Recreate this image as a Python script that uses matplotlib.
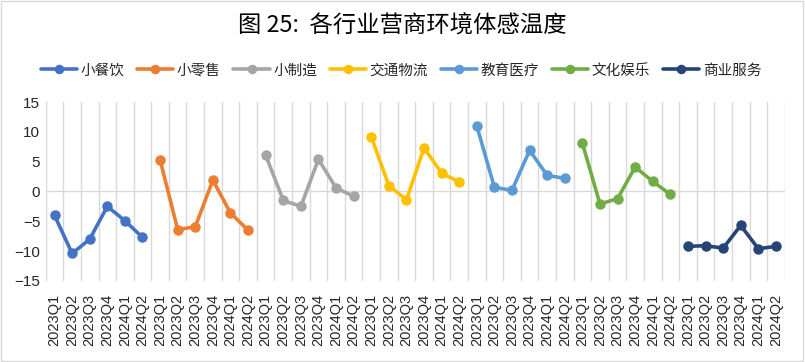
import matplotlib
matplotlib.use("Agg")
import matplotlib.pyplot as plt
import numpy as np
from matplotlib.patches import Rectangle

plt.rcParams['font.family'] = ['Noto Sans CJK SC', 'DejaVu Sans']

title = "图 25:  各行业营商环境体感温度"
quarters = ["2023Q1", "2023Q2", "2023Q3", "2023Q4", "2024Q1", "2024Q2"]
series_names = ["小餐饮", "小零售", "小制造", "交通物流", "教育医疗", "文化娱乐", "商业服务"]

s_canyin = [-4.0, -10.4, -8.0, -2.5, -4.9, -7.7]
s_lingshou = [5.3, -6.4, -5.9, 1.9, -3.6, -6.5]
s_zhizao = [6.1, -1.5, -2.5, 5.4, 0.6, -0.8]
s_jiaotong = [9.2, 1.0, -1.4, 7.3, 3.1, 1.6]
s_jiaoyu = [11.0, 0.7, 0.2, 6.9, 2.7, 2.2]
s_wenhua = [8.1, -2.1, -1.2, 4.1, 1.7, -0.5]
s_shangye = [-9.2, -9.1, -9.5, -5.7, -9.6, -9.2]

all_series = [s_canyin, s_lingshou, s_zhizao, s_jiaotong, s_jiaoyu, s_wenhua, s_shangye]
colors = ["#4472C4", "#ED7D31", "#A5A5A5", "#FFC000", "#5B9BD5", "#70AD47", "#264478"]

categories = quarters * len(series_names)

fig = plt.figure(figsize=(8.05, 3.62), dpi=100)
ax = fig.add_axes([0.0568, 0.224, 0.918, 0.494])

n = len(categories)
for i, (name, vals, c) in enumerate(zip(series_names, all_series, colors)):
    x = np.arange(len(quarters)) + i * len(quarters)
    ax.plot(x, vals, color=c, lw=2.6, marker='o', ms=6.5, label=name,
            solid_capstyle='round', solid_joinstyle='round')

ax.set_xlim(-0.5, n - 0.5)
ax.set_ylim(-15, 15)
ax.set_yticks([-15, -10, -5, 0, 5, 10, 15])
ax.set_xticks(np.arange(n))
ax.set_xticklabels(categories, rotation=90, family=['Liberation Sans', 'DejaVu Sans'],
                   fontsize=10.5, color='#262626')
for lab in ax.get_yticklabels():
    lab.set_family(['Liberation Sans', 'DejaVu Sans'])
ax.tick_params(axis='y', labelsize=11, length=0, pad=4, colors='#262626')
ax.tick_params(axis='x', length=0, pad=9)

# vertical gridlines at category boundaries
for b in np.arange(n + 1) - 0.5:
    ax.axvline(b, color='#D9D9D9', lw=1.0, zorder=0)
ax.axhline(0, color='#D9D9D9', lw=1.0, zorder=0)
for s in ax.spines.values():
    s.set_visible(False)

fig.text(0.5, 0.927, title, ha='center', va='center', fontsize=16.8, color='#000000')

leg = fig.legend(loc='center', bbox_to_anchor=(0.498, 0.805), ncol=7, frameon=False,
                 fontsize=10.5, handlelength=2.5, handletextpad=0.25, columnspacing=0.85,
                 markerscale=0.9)
for t in leg.get_texts():
    t.set_color('#262626')

fig.patches.append(Rectangle((0.001, 0.002), 0.997, 0.995, transform=fig.transFigure,
                             fill=False, edgecolor='#D9D9D9', lw=1.0))

fig.savefig("out.png", dpi=100)
